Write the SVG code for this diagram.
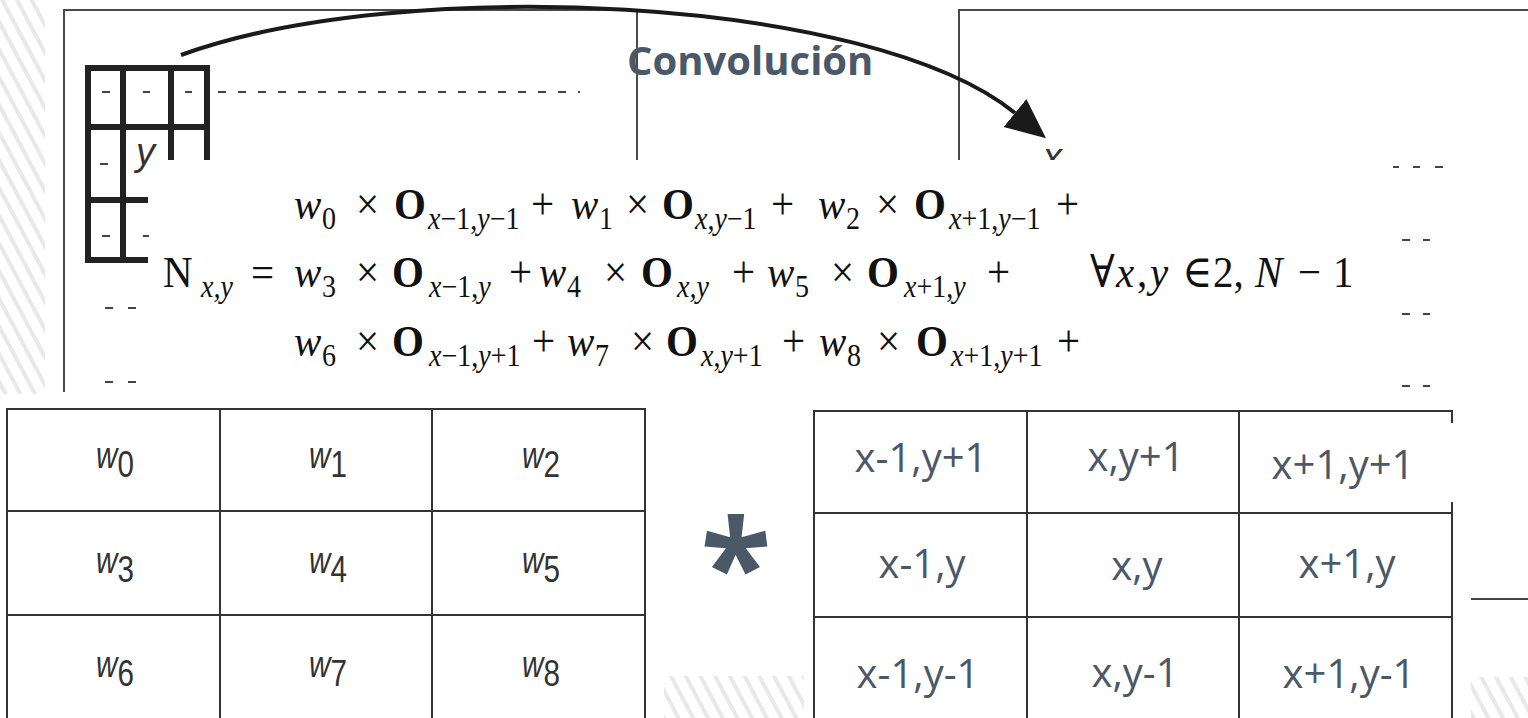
<svg xmlns="http://www.w3.org/2000/svg" width="1528" height="718" viewBox="0 0 1528 718">
<style>
.f{font-family:"Liberation Serif","DejaVu Serif",serif;fill:#111}
.m{font-size:41px}
.s{font-size:28px}
.i{font-style:italic}
.b{font-weight:bold}
.box{fill:none;stroke:#4a4a4a;stroke-width:2}
.grid{stroke:#222;stroke-width:6;fill:none}
.dash{stroke:#444;stroke-width:2;fill:none}
.tbl{stroke:#333;stroke-width:2;fill:none}
.wl{font-family:"Liberation Sans",Arial,sans-serif;font-size:37px;fill:#333}
.cl{font-family:"Open Sans","Liberation Sans",sans-serif;font-size:40px;fill:#4a5868}
.lbl{font-family:"Liberation Sans",Arial,sans-serif;font-size:38px;font-style:italic;fill:#333}
</style>
<defs>
<pattern id="stripes" width="13" height="13" patternUnits="userSpaceOnUse" patternTransform="rotate(-28)">
<rect width="4" height="13" fill="#e8e8e8"/>
</pattern>
<marker id="ah" markerUnits="userSpaceOnUse" markerWidth="42" markerHeight="38" refX="0" refY="18" orient="auto">
<path d="M0,0 L40,18 L0,36 z" fill="#1a1a1a"/>
</marker>
<clipPath id="topclip"><rect x="900" y="0" width="300" height="160"/></clipPath>
</defs>

<g id="background">
<rect x="0" y="0" width="1528" height="718" fill="#fff"/>
<rect x="0" y="0" width="45" height="394" fill="url(#stripes)"/>
<rect x="664" y="676" width="140" height="42" fill="url(#stripes)"/>
<rect x="1471" y="677" width="57" height="41" fill="url(#stripes)"/>
</g>

<g id="input-image">
<path class="box" d="M64,392 V10 H637 V160"/>
<path class="grid" d="M85,68 H210 M85,127 H210 M85,200 H148 M85,260 H148 M88,65 V263 M123,65 V263 M171,65 V160 M207,65 V160"/>
<path class="dash" d="M102,92 h8 M143,92 h7 M185,92 h7 M100,164 h8 M102,236 h8 M143,236 h6 M105,308 h8 M128,308 h8 M105,382 h8 M128,382 h8"/>
<line class="dash" x1="218" y1="92" x2="580" y2="92" stroke-width="1.6" stroke-dasharray="8 12"/>
<text class="lbl" x="136" y="165">y</text>
</g>

<g id="output-image">
<path class="box" d="M959,160 V10 H1528"/>
<text class="lbl" x="1043" y="170" clip-path="url(#topclip)">x</text>
<path class="dash" d="M1393,167 h6 M1413,167 h7 M1435,167 h8 M1402,240 h8 M1423,240 h7 M1402,314 h8 M1423,314 h7 M1402,386 h8 M1423,386 h7"/>
</g>

<g id="connectors">
<path d="M181,55 C400,-25 870,-5 1015,113" fill="none" stroke="#1a1a1a" stroke-width="4" marker-end="url(#ah)"/>
</g>

<g id="label-convolucion">
<text x="627" y="75" font-family="'Open Sans','Liberation Sans',sans-serif" font-weight="bold" font-size="40" fill="#4a5868">Convolución</text>
</g>

<g id="formula">
<g transform="translate(0,219) scale(1,1.1)">
<text class="f m i" x="294" y="0">w</text><text class="f s" x="322" y="9">0</text>
<text class="f m" x="356" y="0">×</text>
<text class="f m b" x="394" y="0">O</text>
<text class="f s" x="428" y="9"><tspan class="i">x</tspan>−1,<tspan class="i">y</tspan>−1</text>
<text class="f m" x="531" y="0">+</text>
<text class="f m i" x="571" y="0">w</text><text class="f s" x="599" y="9">1</text>
<text class="f m" x="626" y="0">×</text>
<text class="f m b" x="662" y="0">O</text>
<text class="f s" x="695" y="9"><tspan class="i">x</tspan>,<tspan class="i">y</tspan>−1</text>
<text class="f m" x="771" y="0">+</text>
<text class="f m i" x="818" y="0">w</text><text class="f s" x="846" y="9">2</text>
<text class="f m" x="876" y="0">×</text>
<text class="f m b" x="914" y="0">O</text>
<text class="f s" x="949" y="9"><tspan class="i">x</tspan>+1,<tspan class="i">y</tspan>−1</text>
<text class="f m" x="1056" y="0">+</text>
</g>
<g transform="translate(0,287) scale(1,1.1)">
<text class="f m" x="163" y="0">N</text>
<text class="f s i" x="201" y="9">x,y</text>
<text class="f m" x="251" y="0">=</text>
<text class="f m i" x="294" y="0">w</text><text class="f s" x="322" y="9">3</text>
<text class="f m" x="356" y="0">×</text>
<text class="f m b" x="392" y="0">O</text>
<text class="f s" x="429" y="9"><tspan class="i">x</tspan>−1,<tspan class="i">y</tspan></text>
<text class="f m" x="509" y="0">+</text>
<text class="f m i" x="539" y="0">w</text><text class="f s" x="567" y="9">4</text>
<text class="f m" x="604" y="0">×</text>
<text class="f m b" x="641" y="0">O</text>
<text class="f s i" x="677" y="9">x,y</text>
<text class="f m" x="732" y="0">+</text>
<text class="f m i" x="767" y="0">w</text><text class="f s" x="795" y="9">5</text>
<text class="f m" x="831" y="0">×</text>
<text class="f m b" x="867" y="0">O</text>
<text class="f s" x="904" y="9"><tspan class="i">x</tspan>+1,<tspan class="i">y</tspan></text>
<text class="f m" x="987" y="0">+</text>
<text class="f m" y="0"><tspan x="1090">∀</tspan><tspan x="1116" class="i">x</tspan><tspan x="1137">,</tspan><tspan x="1150" class="i">y</tspan><tspan x="1182">∈</tspan><tspan x="1213">2,</tspan><tspan x="1255" class="i">N</tspan><tspan x="1298">−</tspan><tspan x="1333">1</tspan></text>
</g>
<g transform="translate(0,356) scale(1,1.1)">
<text class="f m i" x="294" y="0">w</text><text class="f s" x="322" y="9">6</text>
<text class="f m" x="356" y="0">×</text>
<text class="f m b" x="392" y="0">O</text>
<text class="f s" x="429" y="9"><tspan class="i">x</tspan>−1,<tspan class="i">y</tspan>+1</text>
<text class="f m" x="532" y="0">+</text>
<text class="f m i" x="567" y="0">w</text><text class="f s" x="595" y="9">7</text>
<text class="f m" x="631" y="0">×</text>
<text class="f m b" x="666" y="0">O</text>
<text class="f s" x="701" y="9"><tspan class="i">x</tspan>,<tspan class="i">y</tspan>+1</text>
<text class="f m" x="782" y="0">+</text>
<text class="f m i" x="819" y="0">w</text><text class="f s" x="847" y="9">8</text>
<text class="f m" x="877" y="0">×</text>
<text class="f m b" x="916" y="0">O</text>
<text class="f s" x="951" y="9"><tspan class="i">x</tspan>+1,<tspan class="i">y</tspan>+1</text>
<text class="f m" x="1057" y="0">+</text>
</g>
</g>

<g id="kernel-table">
<path class="tbl" d="M7,718 V409 H645 V718 M220,409 V718 M432,409 V718 M7,511 H645 M7,615 H645"/>
<text class="wl" text-anchor="middle" transform="translate(115,468) scale(0.8,1)"><tspan font-style="italic">w</tspan><tspan dy="9">0</tspan></text>
<text class="wl" text-anchor="middle" transform="translate(328,468) scale(0.8,1)"><tspan font-style="italic">w</tspan><tspan dy="9">1</tspan></text>
<text class="wl" text-anchor="middle" transform="translate(541,468) scale(0.8,1)"><tspan font-style="italic">w</tspan><tspan dy="9">2</tspan></text>
<text class="wl" text-anchor="middle" transform="translate(115,573) scale(0.8,1)"><tspan font-style="italic">w</tspan><tspan dy="9">3</tspan></text>
<text class="wl" text-anchor="middle" transform="translate(328,573) scale(0.8,1)"><tspan font-style="italic">w</tspan><tspan dy="9">4</tspan></text>
<text class="wl" text-anchor="middle" transform="translate(541,573) scale(0.8,1)"><tspan font-style="italic">w</tspan><tspan dy="9">5</tspan></text>
<text class="wl" text-anchor="middle" transform="translate(115,677) scale(0.8,1)"><tspan font-style="italic">w</tspan><tspan dy="9">6</tspan></text>
<text class="wl" text-anchor="middle" transform="translate(328,677) scale(0.8,1)"><tspan font-style="italic">w</tspan><tspan dy="9">7</tspan></text>
<text class="wl" text-anchor="middle" transform="translate(541,677) scale(0.8,1)"><tspan font-style="italic">w</tspan><tspan dy="9">8</tspan></text>
</g>

<g id="operator">
<text x="736" y="612" text-anchor="middle" font-family="'Open Sans','Liberation Sans',sans-serif" font-weight="bold" font-size="130" fill="#4a5868">*</text>
</g>

<g id="neighbourhood-table">
<path class="tbl" d="M814,718 V411 H1452 V423 M1452,502 V718 M1027,411 V718 M1239,411 V718 M814,513 H1452 M814,617 H1452"/>
<line x1="1471" y1="599" x2="1528" y2="599" stroke="#444" stroke-width="2"/>
<text class="cl" text-anchor="middle" x="921" y="472">x-1,y+1</text>
<text class="cl" text-anchor="middle" x="1136" y="471">x,y+1</text>
<text class="cl" text-anchor="middle" x="1343" y="479">x+1,y+1</text>
<text class="cl" text-anchor="middle" x="922" y="578">x-1,y</text>
<text class="cl" text-anchor="middle" x="1137" y="580">x,y</text>
<text class="cl" text-anchor="middle" x="1347" y="578">x+1,y</text>
<text class="cl" text-anchor="middle" x="918" y="688">x-1,y-1</text>
<text class="cl" text-anchor="middle" x="1135" y="687">x,y-1</text>
<text class="cl" text-anchor="middle" x="1349" y="688">x+1,y-1</text>
</g>
</svg>
